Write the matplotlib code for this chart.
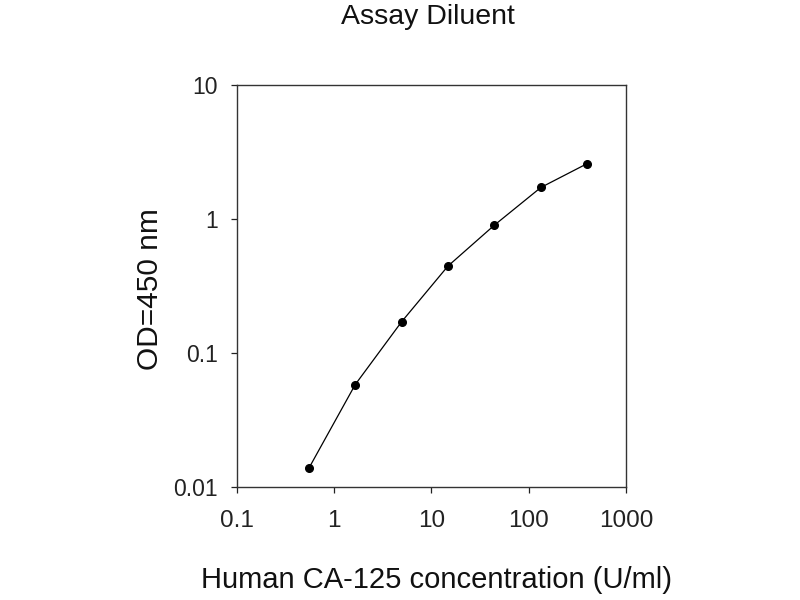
import matplotlib.pyplot as plt

plt.rcParams['font.family'] = ['Liberation Sans', 'DejaVu Sans']

# CA-125 standard curve, threefold dilutions
conc = [0.55, 1.65, 4.94, 14.8, 44.4, 133.3, 400]
od = [0.0137, 0.0578, 0.170, 0.443, 0.895, 1.71, 2.58]

x_ticks = [0.1, 1, 10, 100, 1000]
x_labels = ['0.1', '1', '10', '100', '1000']
y_ticks = [0.01, 0.1, 1, 10]
y_labels = ['0.01', '0.1', '1', '10']

fig = plt.figure(figsize=(8, 6), dpi=100)
ax = fig.add_axes([0.2959, 0.1888, 0.4866, 0.67])

ax.plot(conc, od, color='black', linewidth=0.9, marker='o', markersize=5.5)

ax.set_xscale('log')
ax.set_yscale('log')
ax.set_xlim(0.1, 1000)
ax.set_ylim(0.01, 10)
ax.minorticks_off()
ax.set_xticks(x_ticks)
ax.set_xticklabels(x_labels)
ax.set_yticks(y_ticks)
ax.set_yticklabels(y_labels)

ax.tick_params(axis='x', labelsize=17.5, length=4, width=0.9, pad=13, colors='#222222')
ax.tick_params(axis='y', labelsize=16.5, length=4, width=0.9, pad=9.5, colors='#222222')
for side in ['left', 'bottom', 'top', 'right']:
    ax.spines[side].set_color('#333333')
    ax.spines[side].set_linewidth(1.0)

fig.text(0.535, 0.972, 'Assay Diluent', ha='center', va='center', fontsize=20.5, color='#111111')
fig.text(0.546, 0.033, 'Human CA-125 concentration (U/ml)', ha='center', va='center',
         fontsize=21, color='#111111')
fig.text(0.1875, 0.519, 'OD=450 nm', ha='center', va='center', rotation=90,
         fontsize=21.5, color='#111111')

fig.savefig('out.png', dpi=100)
